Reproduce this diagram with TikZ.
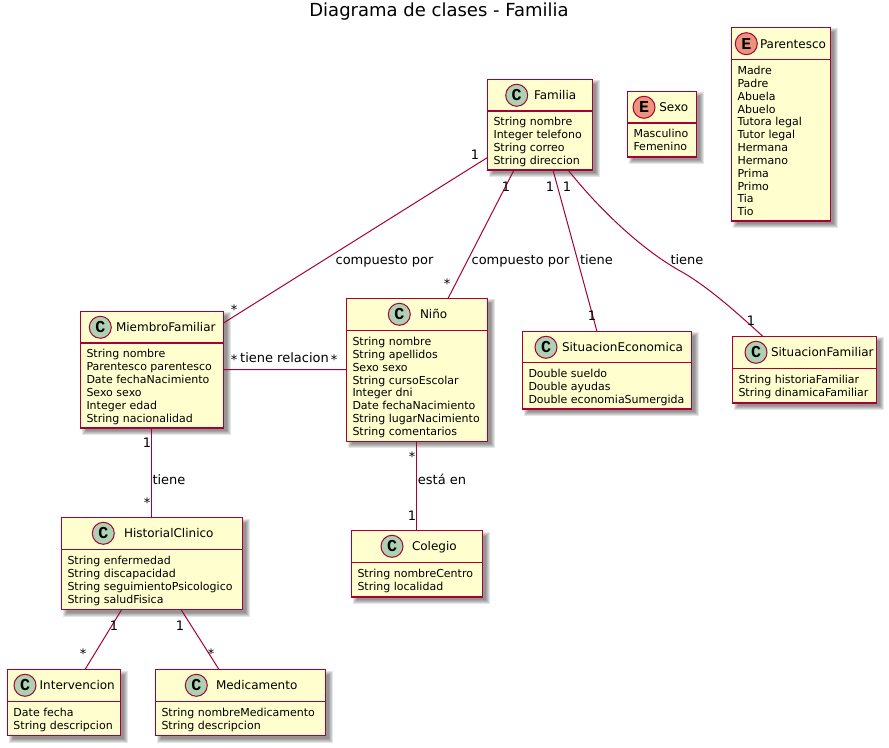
\documentclass[tikz,border=0pt]{standalone}
\usepackage{fontspec}
\setmainfont{DejaVu Sans}
\newfontfamily\spotfont{Liberation Mono}[BoldFont={Liberation Mono Bold}]
\usetikzlibrary{calc}
\definecolor{umlline}{HTML}{A80036}
\definecolor{umlfill}{HTML}{FEFECE}
\definecolor{spotC}{HTML}{ADD1B2}
\definecolor{spotE}{HTML}{EB937F}
\tikzset{
  classbox/.style={draw=umlline,fill=umlfill,line width=1.125pt,inner sep=0pt,outer sep=0pt},
  spot/.style={circle,draw=umlline,line width=.75pt,minimum size=16.5pt,inner sep=0pt,outer sep=0pt,font=\spotfont\bfseries\fontsize{12.5}{12.5}\selectfont},
  titletext/.style={anchor=base west,inner sep=0pt,outer sep=0pt,font=\fontsize{9}{11}\selectfont},
  attrtext/.style={anchor=base west,inner sep=0pt,outer sep=0pt,font=\fontsize{8.25}{10}\selectfont},
  edgetext/.style={anchor=base,inner sep=0pt,outer sep=0pt,font=\fontsize{9.75}{12}\selectfont},
  conn/.style={draw=umlline,line width=.75pt},
}
% id, x0, y0, x1, y1, header y
\newcommand{\umlbox}[6]{%
  \foreach \r in {3,2,1,0,-1}{
    \fill[black,opacity=.1] (#2+4-\r,#3+4-\r) rectangle (#4+4+\r,#5+4+\r);
  }
  \pgfmathsetmacro{\bw}{#4-#2}\pgfmathsetmacro{\bh}{#5-#3}
  \pgfmathsetmacro{\bx}{(#2+#4)/2}\pgfmathsetmacro{\by}{(#3+#5)/2}
  \node[classbox,minimum width=\bw*0.75pt,minimum height=\bh*0.75pt] (#1) at (\bx,\by) {};
  \draw[umlline,line width=1.125pt] (#2,#6) -- (#4,#6);
  \def\hdr{#6}\def\leftx{#2}
}
% id, spot colour, letter, circle x, circle y, title x, title
\newcommand{\umlhead}[7]{%
  \node[spot,fill=#2] (#1-spot) at (#4,#5) {#3};
  \node[titletext] (#1-title) at (#6,#5+4.5) {#7};
}
% id, list of lines
\newcommand{\umlattrs}[2]{%
  \foreach \t [count=\i] in {#2}{
    \node[attrtext] (#1-attr\i) at (\leftx+6,\hdr+15+12.85*\i-12.85) {\t};
  }
}
\begin{document}
\begin{tikzpicture}[x=0.75pt,y=-0.75pt]
\useasboundingbox (0,0) rectangle (889,748);
\fill[white] (0,0) rectangle (889,748);

\node[anchor=base,inner sep=0pt,font=\fontsize{13.5}{16}\selectfont] (diagramtitle) at (439,17) {Diagrama de clases - Familia};

\umlbox{familia}{487.5}{79.5}{592.5}{170}{111}
\umlhead{familia}{spotC}{C}{516.7}{95.3}{534}{Familia}
\umlattrs{familia}{String nombre,Integer telefono,String correo,String direccion}

\umlbox{sexo}{627.5}{91.5}{696.5}{157}{123}
\umlhead{sexo}{spotE}{E}{644}{107.3}{659.3}{Sexo}
\umlattrs{sexo}{Masculino,Femenino}

\umlbox{parentesco}{731.5}{27.5}{830.5}{221}{59.5}
\umlhead{parentesco}{spotE}{E}{746.3}{43.7}{760}{Parentesco}
\umlattrs{parentesco}{Madre,Padre,Abuela,Abuelo,Tutora legal,Tutor legal,Hermana,Hermano,Prima,Primo,Tia,Tio}

\umlbox{miembro}{80.5}{311.5}{223.5}{428}{343}
\umlhead{miembro}{spotC}{C}{100.3}{327.3}{116}{MiembroFamiliar}
\umlattrs{miembro}{String nombre,Parentesco parentesco,Date fechaNacimiento,Sexo sexo,Integer edad,String nacionalidad}

\umlbox{nino}{346.5}{298.5}{487.5}{441.5}{330.5}
\umlhead{nino}{spotC}{C}{399.3}{314.3}{420}{Niño}
\umlattrs{nino}{String nombre,String apellidos,Sexo sexo,String cursoEscolar,Integer dni,Date fechaNacimiento,String lugarNacimiento,String comentarios}

\umlbox{eco}{522.5}{331.5}{691.5}{409}{362.5}
\umlhead{eco}{spotC}{C}{546}{347.3}{562}{SituacionEconomica}
\umlattrs{eco}{Double sueldo,Double ayudas,Double economiaSumergida}

\umlbox{fam}{732.5}{336.5}{876.5}{403}{368.5}
\umlhead{fam}{spotC}{C}{756}{352.3}{771}{SituacionFamiliar}
\umlattrs{fam}{String historiaFamiliar,String dinamicaFamiliar}

\umlbox{colegio}{351.5}{530.5}{482.5}{597}{562.5}
\umlhead{colegio}{spotC}{C}{392}{546.3}{412}{Colegio}
\umlattrs{colegio}{String nombreCentro,String localidad}

\umlbox{historial}{61.5}{517.5}{242.5}{609.5}{549.5}
\umlhead{historial}{spotC}{C}{103.3}{533.3}{124}{HistorialClinico}
\umlattrs{historial}{String enfermedad,String discapacidad,String seguimientoPsicologico,String saludFisica}

\umlbox{interv}{7.5}{669.5}{120.5}{735.5}{701.5}
\umlhead{interv}{spotC}{C}{25}{685.3}{39.7}{Intervencion}
\umlattrs{interv}{Date fecha,String descripcion}

\umlbox{medic}{155.5}{669.5}{325.5}{735.5}{701.5}
\umlhead{medic}{spotC}{C}{196.3}{685.3}{216}{Medicamento}
\umlattrs{medic}{String nombreMedicamento,String descripcion}

% connectors
\draw[conn] ($(familia.north west)+(0,78)$) -- ($(miembro.north east)+(0,11.5)$);
\draw[conn] ($(familia.south west)+(26.5,0)$) -- ($(nino.north west)+(101.5,0)$);
\draw[conn] ($(familia.south west)+(65.5,0)$) -- ($(eco.north west)+(74.5,0)$);
\draw[conn] ($(familia.south west)+(80.5,0)$) .. controls +(32,40) and +(-40,-22) .. (682,272) .. controls +(28,16) and +(-22,-20) .. ($(fam.north west)+(30.5,0)$);
\draw[conn] (miembro.east) ++(0,0) -- ($(nino.west)+(0,-0.5)$);
\draw[conn] ($(miembro.south west)+(71,0)$) -- ($(historial.north west)+(90,0)$);
\draw[conn] ($(nino.south west)+(70,0)$) -- ($(colegio.north west)+(65,0)$);
\draw[conn] ($(historial.south west)+(60.2,0)$) -- ($(interv.north west)+(77.5,0)$);
\draw[conn] ($(historial.south west)+(119.5,0)$) -- ($(medic.north west)+(63.5,0)$);

% connector labels
\node[edgetext] (l1) at (384.5,265) {compuesto por};
\node[edgetext] (l2) at (520.5,265) {compuesto por};
\node[edgetext] (l3) at (596.5,265) {tiene};
\node[edgetext] (l4) at (687,265) {tiene};
\node[edgetext] (l5) at (284.5,363) {tiene relacion};
\node[edgetext] (l6) at (169,484.5) {tiene};
\node[edgetext] (l7) at (442,484.5) {está en};

% multiplicities
\foreach \n/\x/\y/\s in {m1/475/160/1,m2/506/192/1,m3/550/192/1,m4/567/192/1,m5/234/315/*,m6/447/289/*,m7/592/321/1,m8/751/326/1,m9/234/365/*,m10/334/365/*,m11/147/448/1,m12/147/507/*,m13/412/461/*,m14/412/520/1,m15/114/630/1,m16/83/658/*,m17/180/630/1,m18/211/658/*}{
  \node[edgetext] (\n) at (\x,\y) {\s};
}
\end{tikzpicture}
\end{document}
